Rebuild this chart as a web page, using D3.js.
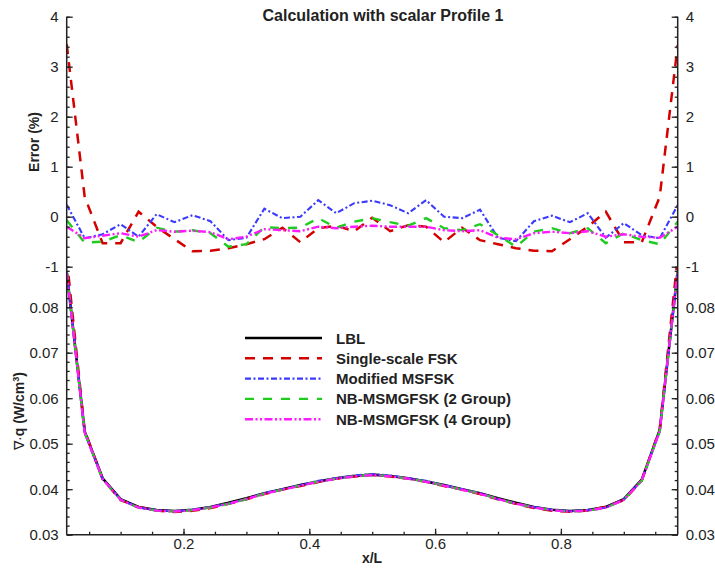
<!DOCTYPE html>
<html>
<head>
<meta charset="utf-8">
<script src="https://cdn.jsdelivr.net/npm/d3@7"></script>
<style>
body { margin: 0; background: #fff; }
text { font-family: "Liberation Sans", Arial, sans-serif; fill: #222; }
</style>
</head>
<body>
<script>
// cell centres, x/L = (2k+1)/70
var xs = d3.range(35).map(function(k) { return (2 * k + 1) / 70; });

// error (%)
var errFSK = [3.45, 0.40, -0.53, -0.53, 0.10, -0.20, -0.45, -0.69, -0.68, -0.63, -0.55, -0.45, -0.22, -0.51, -0.23, -0.18, -0.29, -0.02,
  -0.29, -0.17, -0.20, -0.51, -0.22, -0.47, -0.55, -0.63, -0.68, -0.69, -0.45, -0.20, 0.10, -0.51, -0.51, 0.40, 3.43];
var errMSFSK = [0.24, -0.43, -0.35, -0.15, -0.40, 0.05, -0.11, 0.03, -0.09, -0.47, -0.42, 0.16, -0.03, 0.00, 0.33, 0.07, 0.27, 0.32,
  0.23, 0.07, 0.33, 0.00, -0.03, 0.14, -0.42, -0.49, -0.09, 0.02, -0.11, 0.07, -0.42, -0.13, -0.37, -0.43, 0.23];
var errG2 = [-0.07, -0.52, -0.50, -0.37, -0.51, -0.22, -0.30, -0.27, -0.33, -0.60, -0.55, -0.21, -0.23, -0.22, -0.03, -0.22, -0.10, -0.03,
  -0.11, -0.18, -0.03, -0.23, -0.27, -0.15, -0.37, -0.60, -0.30, -0.23, -0.33, -0.23, -0.53, -0.33, -0.47, -0.55, -0.10];
var errG4 = [-0.20, -0.43, -0.38, -0.33, -0.40, -0.27, -0.30, -0.28, -0.31, -0.45, -0.40, -0.25, -0.27, -0.29, -0.20, -0.23, -0.20, -0.18,
  -0.20, -0.20, -0.20, -0.27, -0.29, -0.27, -0.42, -0.45, -0.33, -0.30, -0.33, -0.29, -0.40, -0.35, -0.40, -0.42, -0.20];

// div q (W/cm3)
var qLBL = [0.0878, 0.0527, 0.0424, 0.0378, 0.0361, 0.0354, 0.0352, 0.0355, 0.0361, 0.0370, 0.0380, 0.0391, 0.0400, 0.0409, 0.0417, 0.0424, 0.0429, 0.0432,
  0.0429, 0.0424, 0.0417, 0.0409, 0.0400, 0.0391, 0.0380, 0.0370, 0.0361, 0.0355, 0.0352, 0.0354, 0.0361, 0.0378, 0.0421, 0.0530, 0.0880];
var qFSK = [0.0908, 0.0529, 0.0422, 0.0376, 0.0361, 0.0353, 0.0350, 0.03526, 0.03585, 0.03677, 0.03779, 0.03892, 0.03991, 0.04069, 0.0416, 0.04232, 0.04278, 0.04319,
  0.04278, 0.04233, 0.04162, 0.04069, 0.03991, 0.03892, 0.03779, 0.03677, 0.03585, 0.03526, 0.03504, 0.03533, 0.03614, 0.03761, 0.04189, 0.05321, 0.09102];
var qMSFSK = [0.08801, 0.05247, 0.04225, 0.03774, 0.03596, 0.03542, 0.03516, 0.03551, 0.03607, 0.03683, 0.03784, 0.03916, 0.03999, 0.0409, 0.04184, 0.04243, 0.04302, 0.04334,
  0.043, 0.04243, 0.04184, 0.0409, 0.03999, 0.03915, 0.03784, 0.03682, 0.03607, 0.03551, 0.03516, 0.03542, 0.03596, 0.03775, 0.04194, 0.05277, 0.0882];
var qG2 = [0.08774, 0.05243, 0.04219, 0.03766, 0.03592, 0.03532, 0.03509, 0.0354, 0.03598, 0.03678, 0.03779, 0.03902, 0.03991, 0.04081, 0.04169, 0.04231, 0.04286, 0.04319,
  0.04285, 0.04232, 0.04169, 0.04081, 0.03989, 0.03904, 0.03786, 0.03678, 0.03599, 0.03542, 0.03508, 0.03532, 0.03591, 0.03768, 0.0419, 0.05271, 0.08791];
var qG4 = [0.08762, 0.05247, 0.04224, 0.03768, 0.03596, 0.0353, 0.03509, 0.0354, 0.03599, 0.03683, 0.03785, 0.039, 0.03989, 0.04078, 0.04162, 0.0423, 0.04281, 0.04312,
  0.04281, 0.04232, 0.04162, 0.04079, 0.03988, 0.03899, 0.03784, 0.03683, 0.03598, 0.03539, 0.03508, 0.0353, 0.03596, 0.03767, 0.04193, 0.05278, 0.08782];

var names = ["LBL", "Single-scale FSK", "Modified MSFSK", "NB-MSMGFSK (2 Group)", "NB-MSMGFSK (4 Group)"];
var colors = ["#000000", "#d40000", "#3a3aff", "#1ecc1e", "#ff1aff"];
var dashes = ["none", "10,8", "6,2.5,2,2.5", "9,9", "8,2.5,2,2.5,2,2.5"];
var widths = [2.6, 2.5, 2.1, 2.4, 2.4];

var xTicks = [0.2, 0.4, 0.6, 0.8];
var errTicks = [-1, 0, 1, 2, 3, 4];
var qTicks = [0.03, 0.04, 0.05, 0.06, 0.07, 0.08];

var W = 715, H = 569;
var left = 66.7, right = 677.7, topY = 16.7, midY = 266.7, botY = 534.7;

var x = d3.scaleLinear().domain([1 / 70, 69 / 70]).range([left, right]);
var yErr = d3.scaleLinear().domain([-1, 4]).range([midY, topY]);
var yQ = d3.scaleLinear().domain([0.03, 0.03 + (botY - midY) / 4550]).range([botY, midY]);

var svg = d3.select("body").append("svg")
  .attr("width", W).attr("height", H);

var defs = svg.append("defs");
defs.append("clipPath").attr("id", "clipTop").append("rect")
  .attr("x", left).attr("y", topY - 5).attr("width", right - left).attr("height", midY - topY + 5);
defs.append("clipPath").attr("id", "clipBot").append("rect")
  .attr("x", left).attr("y", midY).attr("width", right - left).attr("height", botY - midY);

var errSeries = [errFSK, errMSFSK, errG2, errG4];
var qSeries = [qLBL, qFSK, qMSFSK, qG2, qG4];

var lineErr = d3.line().x(function(d, i) { return x(xs[i]); }).y(function(d) { return yErr(d); });
var lineQ = d3.line().x(function(d, i) { return x(xs[i]); }).y(function(d) { return yQ(d); });

svg.append("g").attr("clip-path", "url(#clipTop)")
  .selectAll("path").data(errSeries).enter().append("path")
  .attr("d", lineErr)
  .attr("fill", "none")
  .attr("stroke", function(d, i) { return colors[i + 1]; })
  .attr("stroke-width", function(d, i) { return widths[i + 1]; })
  .attr("stroke-dasharray", function(d, i) { return dashes[i + 1]; });

svg.append("g").attr("clip-path", "url(#clipBot)")
  .selectAll("path").data(qSeries).enter().append("path")
  .attr("d", lineQ)
  .attr("fill", "none")
  .attr("stroke", function(d, i) { return colors[i]; })
  .attr("stroke-width", function(d, i) { return widths[i]; })
  .attr("stroke-dasharray", function(d, i) { return dashes[i]; });

// axes
function styleAxis(g) {
  g.select(".domain").remove();
  g.selectAll(".tick line").attr("stroke", "#222").attr("stroke-width", 1.3);
  g.selectAll("text").style("font-size", "15px").attr("fill", "#222");
}

var minorErr = d3.range(-1, 4.01, 0.2);
var minorQ = d3.range(0.03, 0.0889, 0.002);
var minorX = d3.range(0.05, 0.96, 0.05);

[["L", d3.axisLeft, left], ["R", d3.axisRight, right]].forEach(function(a) {
  var maker = a[1], xp = a[2];
  svg.append("g").attr("transform", "translate(" + xp + ",0)")
    .call(maker(yErr).tickValues(minorErr).tickSize(-3).tickFormat(""))
    .call(styleAxis);
  svg.append("g").attr("transform", "translate(" + xp + ",0)")
    .call(maker(yErr).tickValues(errTicks).tickSize(-6).tickPadding(8).tickFormat(function(d) { return String(d); }))
    .call(styleAxis);
  svg.append("g").attr("transform", "translate(" + xp + ",0)")
    .call(maker(yQ).tickValues(minorQ).tickSize(-3).tickFormat(""))
    .call(styleAxis);
  svg.append("g").attr("transform", "translate(" + xp + ",0)")
    .call(maker(yQ).tickValues(qTicks).tickSize(-6).tickPadding(8).tickFormat(d3.format(".2f")))
    .call(styleAxis);
  svg.append("line").attr("x1", xp).attr("x2", xp).attr("y1", topY).attr("y2", botY)
    .attr("stroke", "#222").attr("stroke-width", 1.5);
});

svg.append("g").attr("transform", "translate(0," + botY + ")")
  .call(d3.axisBottom(x).tickValues(minorX).tickSize(-3).tickFormat(""))
  .call(styleAxis);
svg.append("g").attr("transform", "translate(0," + botY + ")")
  .call(d3.axisBottom(x).tickValues(xTicks).tickSize(-6).tickPadding(4).tickFormat(d3.format(".1f")))
  .call(styleAxis);
svg.append("line").attr("x1", left).attr("x2", right).attr("y1", botY).attr("y2", botY)
  .attr("stroke", "#222").attr("stroke-width", 1.5);

// titles
svg.append("text").attr("x", 383).attr("y", 20.5).attr("text-anchor", "middle")
  .style("font-size", "16px").style("font-weight", "bold").attr("fill", "#111")
  .text("Calculation with scalar Profile 1");

svg.append("text").attr("transform", "translate(39,142) rotate(-90)").attr("text-anchor", "middle")
  .style("font-size", "14px").style("font-weight", "bold").attr("fill", "#111")
  .text("Error (%)");

var qLab = svg.append("text").attr("transform", "translate(24,411) rotate(-90)").attr("text-anchor", "middle")
  .style("font-size", "14px").style("font-weight", "bold").attr("fill", "#111");
qLab.append("tspan").style("font-weight", "normal").text("\u2207\u00b7");
qLab.append("tspan").text("q (W/cm");
qLab.append("tspan").attr("dy", -5).style("font-size", "9px").text("3");
qLab.append("tspan").attr("dy", 5).text(")");

svg.append("text").attr("x", 372).attr("y", 563).attr("text-anchor", "middle")
  .style("font-size", "14px").style("font-weight", "bold").attr("fill", "#111")
  .text("x/L");

// legend
var leg = svg.append("g").selectAll("g").data(names).enter().append("g")
  .attr("transform", function(d, i) { return "translate(245," + (338 + i * 20.3) + ")"; });
leg.append("line").attr("x1", 0).attr("x2", 77).attr("y1", 0).attr("y2", 0)
  .attr("stroke", function(d, i) { return colors[i]; })
  .attr("stroke-width", function(d, i) { return widths[i]; })
  .attr("stroke-dasharray", function(d, i) { return dashes[i]; });
leg.append("text").attr("x", 91).attr("y", 5.5)
  .style("font-size", "15px").style("font-weight", "bold").attr("fill", "#111")
  .text(function(d) { return d; });
</script>
</body>
</html>
